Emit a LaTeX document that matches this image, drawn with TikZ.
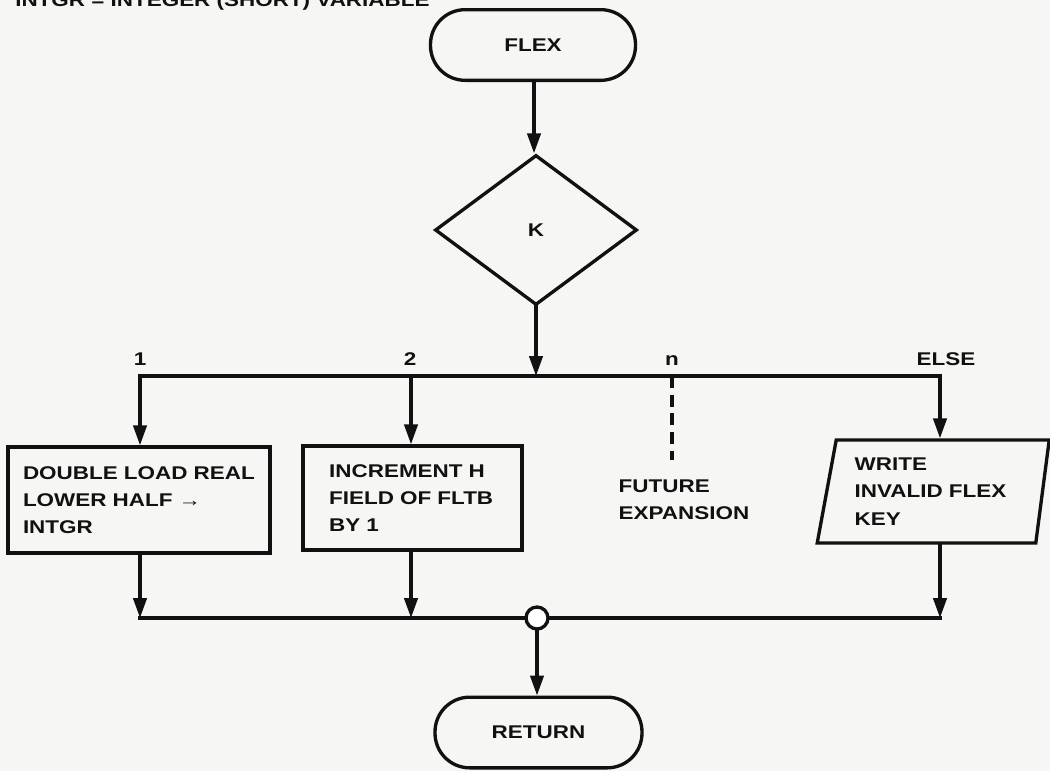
\documentclass[tikz,border=0pt]{standalone}
\usepackage{fontspec}
\setmainfont{Liberation Sans}[FakeStretch=1.22]
\usetikzlibrary{shapes.geometric,arrows.meta}
\definecolor{paper}{RGB}{246,246,244}
\definecolor{ink}{RGB}{17,17,17}
\begin{document}
\begin{tikzpicture}[x=0.75pt,y=-0.75pt,
  every node/.style={font=\fontsize{13.8pt}{20.5pt}\selectfont\bfseries, text=ink},
  wire/.style={draw=ink, line width=2.5pt, line cap=rect},
  arr/.style={wire, -{Triangle[length=15pt,width=10pt]}},
  terminal/.style={draw=ink, line width=2.5pt, rounded corners=26pt, minimum height=53pt},
  decision/.style={draw=ink, line width=2.5pt, diamond, inner sep=0pt},
  process/.style={draw=ink, line width=2.5pt, rectangle, align=left},
  io/.style={draw=ink, line width=2.5pt, trapezium, trapezium left angle=76,
             trapezium right angle=100, trapezium stretches body, align=left},
  junction/.style={draw=ink, line width=2.5pt, circle, fill=white, inner sep=0pt, minimum size=16.5pt},
  caption/.style={align=left}]
\useasboundingbox (0,0) rectangle (1050,771);
\fill[paper] (0,0) rectangle (1050,771);
\clip (0,0) rectangle (1050,771);

% header line, running off the top edge
\node[anchor=base west, inner sep=0pt] (hdr) at (15,7) {INTGR = INTEGER (SHORT) VARIABLE};

% main flow
\node[terminal, minimum width=153.75pt] (flex) at (533,45) {FLEX};
\node[decision, minimum width=151.5pt, minimum height=112.5pt] (k) at (536,230) {K};

% distribution bus
\coordinate (bK) at (536,376);
\coordinate (bL) at (140,376);
\coordinate (b2) at (411,376);
\coordinate (bn) at (672,376);
\coordinate (bR) at (940,376);

% branch labels
\node[anchor=base] (l1) at (140,365) {1};
\node[anchor=base] (l2) at (410,365) {2};
\node[anchor=base] (ln) at (672,365) {n};
\node[anchor=base] (lelse) at (946,365) {ELSE};

% branch actions
\node[process, minimum width=196.5pt, minimum height=79.5pt, text width=174pt] (dbl) at (139,500)
  {DOUBLE LOAD REAL\\LOWER HALF \textrightarrow\\INTGR};
\node[process, minimum width=164.25pt, minimum height=78pt, text width=125pt] (inc) at (412.5,498)
  {INCREMENT H\\FIELD OF FLTB\\BY 1};
\node[caption] (fut) at (684,500) {FUTURE\\EXPANSION};
\coordinate (nend) at (672,460);
\node[io, minimum width=174pt, minimum height=77.25pt, text width=122pt] (wr) at (936,491.5)
  {WRITE\\INVALID FLEX\\KEY};

% collecting bus
\coordinate (cL) at (140,618);
\coordinate (c2) at (411,618);
\coordinate (cR) at (940,618);
\node[terminal, minimum width=155.25pt] (ret) at (538.5,732.5) {RETURN};

% connectors
\draw[arr] (flex.south -| 534,0) -- (k.north -| 534,0);
\draw[arr] (k.south) -- (bK);
\draw[wire] (bL) -- (bR);
\draw[arr] (bL) -- (bL |- dbl.north);
\draw[arr] (b2) -- (b2 |- inc.north);
\draw[wire, line cap=butt, dash pattern=on 9pt off 5pt] (bn) -- (nend);
\draw[arr] (bR) -- (bR |- wr.north);

\draw[arr] (bL |- dbl.south) -- (cL);
\draw[arr] (b2 |- inc.south) -- (c2);
\draw[arr] (bR |- wr.south) -- (cR);
\draw[wire] (cL) -- (cR);
\node[junction] (join) at (537,618) {};
\draw[arr] (join.south) -- (ret.north -| join.south);
\end{tikzpicture}
\end{document}
